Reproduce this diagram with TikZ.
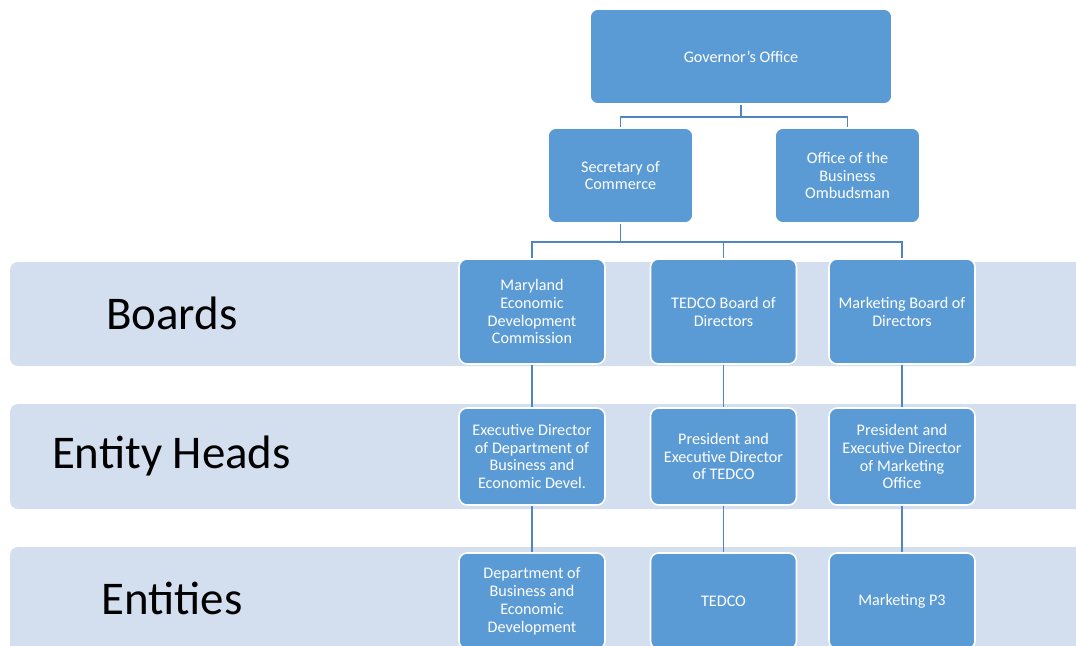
\documentclass[tikz,border=0pt]{standalone}
\usepackage{fontspec}
\setmainfont{Carlito}
\definecolor{boxblue}{HTML}{5B9BD5}
\definecolor{bandblue}{HTML}{D3DEEF}
\definecolor{linkblue}{HTML}{4F86C0}
\begin{document}
\begin{tikzpicture}[x=0.02cm,y=-0.02cm,
    unit/.style={draw=white,line width=0.9pt,fill=boxblue,rounded corners=0.16cm,
      text=white,align=center,font=\fontsize{9.2}{10.2}\selectfont,
      minimum width=2.92cm,minimum height=2.1cm,inner sep=2pt},
    band/.style={fill=bandblue,rounded corners=0.16cm},
    bandlabel/.style={font=\fontsize{26.7}{32}\selectfont,text=black},
    link/.style={draw=linkblue,line width=0.6pt}]
  \clip (0,0) rectangle (1076,646);
  % bands
  \fill[band] (10,262) rectangle (1100,366);
  \fill[band] (10,404) rectangle (1100,509);
  \fill[band] (10,547) rectangle (1100,680);
  \node[bandlabel] (boards) at (172,313) {Boards};
  \node[bandlabel] (heads) at (171.5,456) {Entity Heads};
  \node[bandlabel] (entities) at (172,598) {Entities};
  % top of the chart
  \node[unit,minimum width=6.04cm,minimum height=1.9cm] (gov) at (741,56.5) {Governor's Office};
  \node[unit,minimum width=2.9cm,minimum height=1.9cm] (sec) at (620.5,175.5) {Secretary of\\Commerce};
  \node[unit,minimum width=2.9cm,minimum height=1.9cm] (omb) at (847.5,175.5) {Office of the\\Business\\Ombudsman};
  % boards
  \node[unit] (mdb) at (532,311.5) {Maryland\\Economic\\Development\\Commission};
  \node[unit] (tdb) at (723.5,311.5) {TEDCO Board of\\Directors};
  \node[unit] (mkb) at (902,311.5) {Marketing Board of\\Directors};
  % entity heads
  \node[unit,minimum height=1.94cm] (mdh) at (532,456.5) {Executive Director\\of Department of\\Business and\\Economic Devel.};
  \node[unit,minimum height=1.94cm] (tdh) at (723.5,456.5) {President and\\Executive Director\\of TEDCO};
  \node[unit,minimum height=1.94cm] (mkh) at (902,456.5) {President and\\Executive Director\\of Marketing\\Office};
  % entities
  \node[unit,minimum height=1.92cm] (mde) at (532,601) {Department of\\Business and\\Economic\\Development};
  \node[unit,minimum height=1.92cm] (tde) at (723.5,601) {TEDCO};
  \node[unit,minimum height=1.92cm] (mke) at (902,601) {Marketing P3};
  \coordinate (govfork) at (741,117);
  \coordinate (secfork) at (620.5,242);
  \begin{scope}[link]
    \draw (gov.south) -- (govfork);
    \draw (govfork) -| (sec.north);
    \draw (govfork) -| (omb.north);
    \draw (sec.south) -- (secfork);
    \draw (secfork) -| (mdb.north);
    \draw (secfork) -| (tdb.north);
    \draw (secfork) -| (mkb.north);
    \draw (mdb) to (mdh);
    \draw (tdb) to (tdh);
    \draw (mkb) to (mkh);
    \draw (mdh) to (mde);
    \draw (tdh) to (tde);
    \draw (mkh) to (mke);
  \end{scope}
\end{tikzpicture}
\end{document}
